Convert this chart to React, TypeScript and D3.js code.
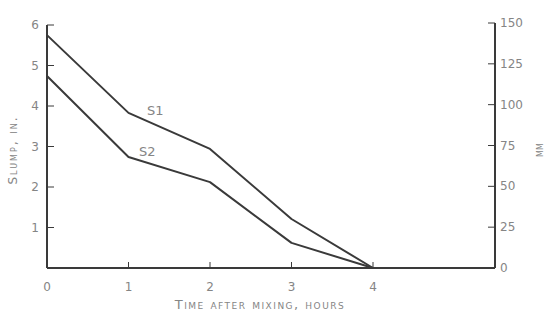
import React from "react";
import * as d3 from "d3";

const hours = [0, 1, 2, 3, 4];
const s1 = [5.75, 3.83, 2.94, 1.21, 0];
const s2 = [4.74, 2.74, 2.12, 0.62, 0];
const xTicks = [0, 1, 2, 3, 4];
const yTicks = [1, 2, 3, 4, 5, 6];
const mmTicks = [0, 25, 50, 75, 100, 125, 150];

const W = 548, H = 320;

export default function App() {
  const x = d3.scaleLinear().domain([0, 4]).range([47, 373]);
  const y = d3.scaleLinear().domain([0, 6]).range([268, 25]);
  const ymm = d3.scaleLinear().domain([0, 150]).range([268, 23]);
  const xEnd = 495;
  const line = d3.line<number>().x((_, i) => x(hours[i])).y((d) => y(d));
  const ink = "#3a3a3a";
  const txt = "#858585";
  const font = "'DejaVu Sans', sans-serif";
  return (
    <svg width={W} height={H} style={{ position: "absolute", left: 0, top: 0, background: "#fff" }}>
      <rect width={W} height={H} fill="#fff" />
      <line x1={x(0)} x2={x(0)} y1={y(0)} y2={y(6)} stroke={ink} strokeWidth={2} />
      <line x1={x(0)} x2={xEnd} y1={y(0)} y2={y(0)} stroke={ink} strokeWidth={2} />
      <line x1={xEnd} x2={xEnd} y1={ymm(0)} y2={ymm(150)} stroke={ink} strokeWidth={2} />
      {yTicks.map((t) => (
        <g key={"y" + t}>
          <line x1={x(0)} x2={x(0) + 7} y1={y(t)} y2={y(t)} stroke={ink} strokeWidth={1} />
          <text x={x(0) - 8} y={y(t) + 4} textAnchor="end" fontSize={12} fill={txt} fontFamily={font}>{t}</text>
        </g>
      ))}
      {xTicks.map((t) => (
        <g key={"x" + t}>
          {t > 0 && <line x1={x(t)} x2={x(t)} y1={y(0)} y2={y(0) - 6} stroke={ink} strokeWidth={1} />}
          <text x={x(t)} y={291} textAnchor="middle" fontSize={12} fill={txt} fontFamily={font}>{t}</text>
        </g>
      ))}
      {mmTicks.map((t) => (
        <g key={"m" + t}>
          {t > 0 && <line x1={xEnd - 7} x2={xEnd} y1={ymm(t)} y2={ymm(t)} stroke={ink} strokeWidth={1} />}
          <text x={xEnd + 5} y={ymm(t) + 4} textAnchor="start" fontSize={12} fill={txt} fontFamily={font}>{t}</text>
        </g>
      ))}
      <path d={line(s1) || ""} fill="none" stroke={ink} strokeWidth={2} strokeLinejoin="round" />
      <path d={line(s2) || ""} fill="none" stroke={ink} strokeWidth={2} strokeLinejoin="round" />
      <text x={147} y={115} fontSize={13} fill={txt} fontFamily={font}>S1</text>
      <text x={139} y={156} fontSize={13} fill={txt} fontFamily={font}>S2</text>
      <text transform={`translate(17,${150}) rotate(-90)`} textAnchor="middle" fontSize={12} letterSpacing={2} fill={txt} fontFamily={font} style={{ fontVariant: "small-caps" }}>Slump, in.</text>
      <text transform={`translate(543,${150}) rotate(-90)`} textAnchor="middle" fontSize={8} fill={txt} fontFamily={font}>MM</text>
      <text x={260} y={309} textAnchor="middle" fontSize={13} letterSpacing={1.5} fill={txt} fontFamily={font} style={{ fontVariant: "small-caps" }}>Time after mixing, hours</text>
    </svg>
  );
}
